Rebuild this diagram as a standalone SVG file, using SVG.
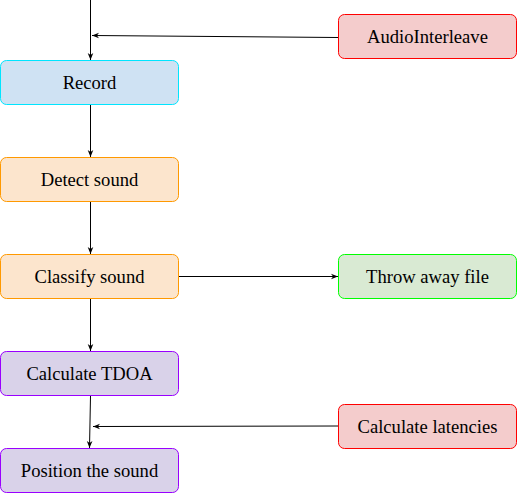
<svg xmlns="http://www.w3.org/2000/svg" width="517" height="494" viewBox="0 0 517 494">
<defs>
<marker id="arr" viewBox="0 0 10 10" refX="10" refY="5" markerWidth="7" markerHeight="7" markerUnits="userSpaceOnUse" orient="auto">
<path d="M0,1 L10,5 L0,9 L3,5 Z" fill="#000"/>
</marker>
</defs>
<style>
text{font-size:18.6px;fill:#000;text-anchor:middle}
.blue rect{fill:#cfe2f3;stroke:#00e5ff}
.orange rect{fill:#fce5cd;stroke:#ff9900}
.purple rect{fill:#d9d2e9;stroke:#9900ff}
.red rect{fill:#f4cccc;stroke:#ff0000}
.green rect{fill:#d9ead3;stroke:#00ff00}
.edges path{fill:none;stroke:#000;stroke-width:1;marker-end:url(#arr)}
</style>
<g class="edges">
<path d="M90.5,0 L90.5,60"/>
<path d="M338,37.5 L92,35.5"/>
<path d="M90.5,104 L90.5,157"/>
<path d="M90.5,201 L90.5,254"/>
<path d="M178,276.5 L338,276.5"/>
<path d="M90.5,298 L90.5,351"/>
<path d="M90.5,396 L89.5,448"/>
<path d="M338,426 L93,426.5"/>
</g>
<g font-family="'Liberation Serif', 'Times New Roman', 'DejaVu Serif', serif">
<g id="record" class="blue"><rect x="0.5" y="60.5" width="178" height="44" rx="6"/><text x="89.5" y="89">Record</text></g>
<g id="detect" class="orange"><rect x="0.5" y="157.5" width="178" height="44" rx="6"/><text x="89.5" y="186">Detect sound</text></g>
<g id="classify" class="orange"><rect x="0.5" y="254.5" width="178" height="44" rx="6"/><text x="89.5" y="283">Classify sound</text></g>
<g id="tdoa" class="purple"><rect x="0.5" y="351.5" width="178" height="44" rx="6"/><text x="89.5" y="380">Calculate TDOA</text></g>
<g id="position" class="purple"><rect x="0.5" y="448.5" width="178" height="44" rx="6"/><text x="89.5" y="477">Position the sound</text></g>
<g id="audiointerleave" class="red"><rect x="338.5" y="14.5" width="178" height="44" rx="6"/><text x="427.5" y="43">AudioInterleave</text></g>
<g id="throw" class="green"><rect x="338.5" y="254.5" width="178" height="44" rx="6"/><text x="427.5" y="283">Throw away file</text></g>
<g id="latencies" class="red"><rect x="338.5" y="404.5" width="178" height="44" rx="6"/><text x="427.5" y="433">Calculate latencies</text></g>
</g>
</svg>
